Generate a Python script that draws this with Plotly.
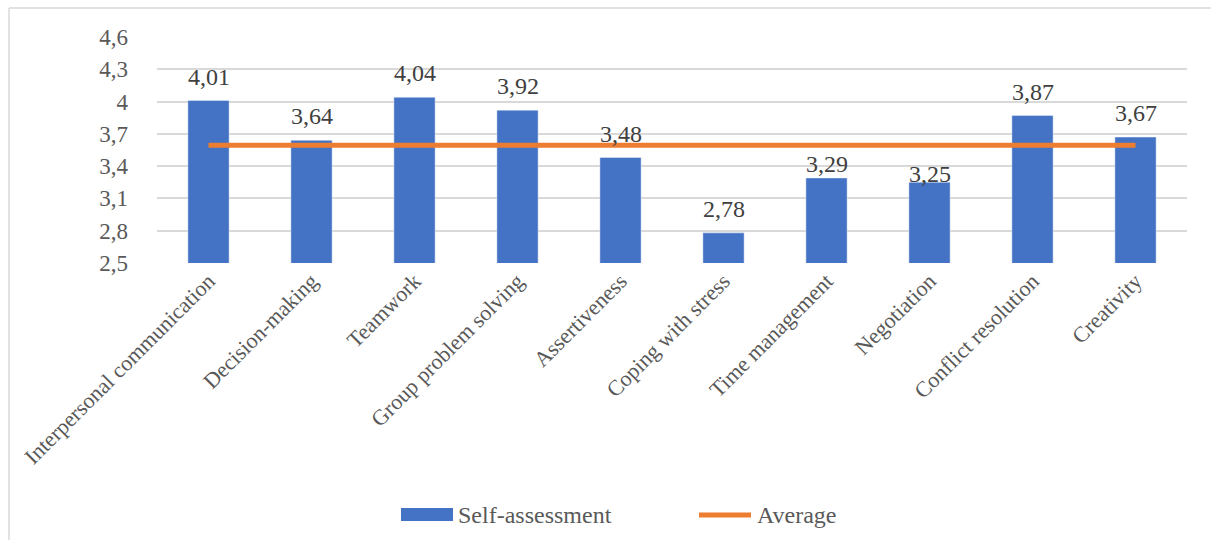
import plotly.graph_objects as go

categories = ["Interpersonal communication", "Decision-making", "Teamwork",
              "Group problem solving", "Assertiveness", "Coping with stress",
              "Time management", "Negotiation", "Conflict resolution", "Creativity"]
self_assessment = [4.01, 3.64, 4.04, 3.92, 3.48, 2.78, 3.29, 3.25, 3.87, 3.67]
average = [3.595] * len(categories)
tick_vals = [2.5, 2.8, 3.1, 3.4, 3.7, 4.0, 4.3, 4.6]
tick_text = ["2,5", "2,8", "3,1", "3,4", "3,7", "4", "4,3", "4,6"]

# label nudges (pixels above bar top), matching the hand-placed labels
label_gap = [17, 17, 17, 17, 17, 17, 7, 1, 17, 17]

FONT = "Liberation Serif"
GREY = "#595959"
BLUE = "#4472C4"
ORANGE = "#ED7D31"

fig = go.Figure()
fig.add_trace(go.Bar(x=categories, y=self_assessment, marker_color=BLUE,
                     name="Self-assessment", showlegend=False))
fig.add_trace(go.Scatter(x=categories, y=average, mode="lines",
                         line=dict(color=ORANGE, width=5),
                         name="Average", showlegend=False))

for c, v, g in zip(categories, self_assessment, label_gap):
    fig.add_annotation(x=c, y=v, text=f"{v:.2f}".replace(".", ","),
                       showarrow=False, yanchor="bottom", yshift=g - 8,
                       font=dict(family=FONT, size=24, color="#404040"))

W, H = 1211, 540
L, R, T, B = 157, 24, 37, 277
pw, ph = W - L - R, H - T - B

def px_x(p):
    return (p - L) / pw

def px_y(p):
    return (H - B - p) / ph

# chart border (left and top visible)
fig.add_shape(type="line", xref="paper", yref="paper",
              x0=px_x(9), x1=px_x(W + 5), y0=px_y(8), y1=px_y(8),
              line=dict(color="#D9D9D9", width=1.5))
fig.add_shape(type="line", xref="paper", yref="paper",
              x0=px_x(9), x1=px_x(9), y0=px_y(8), y1=px_y(H + 5),
              line=dict(color="#D9D9D9", width=1.5))

# custom legend
fig.add_shape(type="rect", xref="paper", yref="paper",
              x0=px_x(401), x1=px_x(453), y0=px_y(521), y1=px_y(508),
              fillcolor=BLUE, line=dict(width=0))
fig.add_annotation(xref="paper", yref="paper", x=px_x(456), y=px_y(515),
                   text="Self-assessment", showarrow=False, xanchor="left",
                   yanchor="middle", font=dict(family=FONT, size=24, color=GREY))
fig.add_shape(type="line", xref="paper", yref="paper",
              x0=px_x(699), x1=px_x(751), y0=px_y(515), y1=px_y(515),
              line=dict(color=ORANGE, width=5))
fig.add_annotation(xref="paper", yref="paper", x=px_x(755), y=px_y(515),
                   text="Average", showarrow=False, xanchor="left",
                   yanchor="middle", font=dict(family=FONT, size=24, color=GREY))

fig.update_layout(
    width=W, height=H,
    margin=dict(l=L, r=R, t=T, b=B),
    paper_bgcolor="white", plot_bgcolor="white",
    bargap=0.6,
    showlegend=False,
    xaxis=dict(tickangle=-45, tickfont=dict(family=FONT, size=22, color=GREY),
               showline=False, ticks="", showgrid=False),
    yaxis=dict(range=[2.5, 4.6], tickvals=tick_vals, ticktext=tick_text,
               showgrid=True, gridcolor="#D9D9D9", gridwidth=1.5,
               zeroline=False, ticks="", ticklen=0, ticklabelstandoff=28,
               tickfont=dict(family=FONT, size=23, color=GREY)),
)

fig.write_html("out.html")
